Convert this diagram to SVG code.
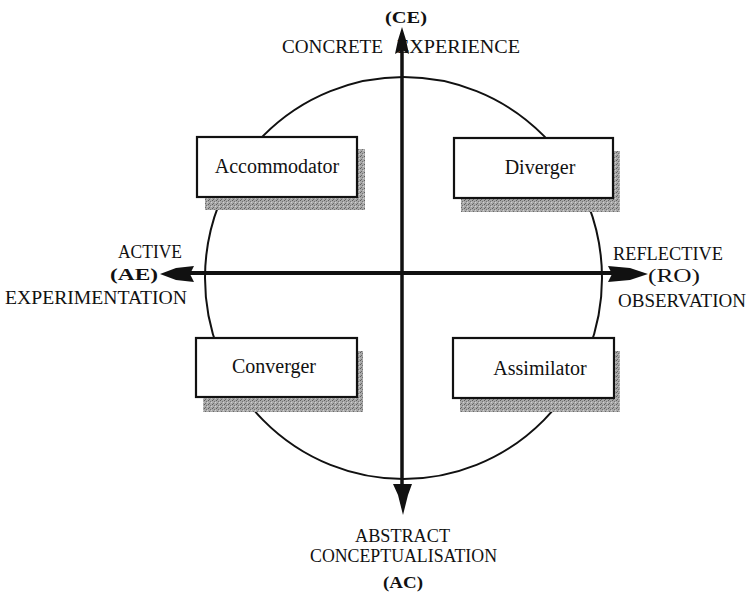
<svg xmlns="http://www.w3.org/2000/svg" width="748" height="592" viewBox="0 0 748 592">
  <defs>
    <!-- stippled grey used for the drop shadows -->
    <pattern id="stipple" width="4" height="4" patternUnits="userSpaceOnUse">
      <rect width="4" height="4" fill="#a8a8a8"/>
      <rect x="0" y="0" width="1" height="1" fill="#5e5e5e"/>
      <rect x="2" y="1" width="1" height="1" fill="#747474"/>
      <rect x="1" y="3" width="1" height="1" fill="#6a6a6a"/>
      <rect x="3" y="2" width="1" height="1" fill="#d0d0d0"/>
    </pattern>
    <style>
      .box { fill: #ffffff; stroke: #111111; stroke-width: 2.2; }
      .shadow { fill: url(#stipple); }
      .lbl { font-family: "Liberation Serif", "Times New Roman", serif; font-size: 20px; fill: #111111; text-anchor: middle; }
      .ax { font-family: "Liberation Serif", "Times New Roman", serif; font-size: 18px; fill: #111111; }
      .code { font-family: "Liberation Serif", "Times New Roman", serif; font-size: 17px; font-weight: bold; fill: #111111; }
      .axis { stroke: #111111; fill: none; }
      .head { fill: #111111; stroke: none; }
    </style>
  </defs>

  <rect width="748" height="592" fill="#ffffff"/>

  <!-- learning cycle -->
  <ellipse cx="403.5" cy="278" rx="198.5" ry="201" fill="none" stroke="#111111" stroke-width="2"/>

  <!-- style quadrants -->
  <g id="accommodator">
    <rect class="shadow" x="205" y="149" width="160" height="61"/>
    <rect class="box" x="197" y="137" width="160" height="60"/>
    <text class="lbl" x="277" y="173">Accommodator</text>
  </g>
  <g id="diverger">
    <rect class="shadow" x="461" y="151" width="159" height="61"/>
    <rect class="box" x="454" y="138" width="159" height="60"/>
    <text class="lbl" x="540" y="174">Diverger</text>
  </g>
  <g id="converger">
    <rect class="shadow" x="203" y="351" width="160" height="61"/>
    <rect class="box" x="196" y="338" width="161" height="59"/>
    <text class="lbl" x="274" y="373">Converger</text>
  </g>
  <g id="assimilator">
    <rect class="shadow" x="460" y="351" width="160" height="61"/>
    <rect class="box" x="453" y="338" width="161" height="60"/>
    <text class="lbl" x="540" y="375">Assimilator</text>
  </g>

  <!-- axis labels -->
  <g id="ce">
    <text class="code" x="385" y="23" textLength="42" lengthAdjust="spacingAndGlyphs">(CE)</text>
    <text class="ax" x="282" y="53" textLength="101" lengthAdjust="spacingAndGlyphs">CONCRETE</text>
    <text class="ax" x="397" y="53" textLength="123" lengthAdjust="spacingAndGlyphs">EXPERIENCE</text>
  </g>
  <g id="ae">
    <text class="ax" x="118" y="258" textLength="64" lengthAdjust="spacingAndGlyphs">ACTIVE</text>
    <text class="code" x="110" y="280" textLength="48" lengthAdjust="spacingAndGlyphs">(AE)</text>
    <text class="ax" x="5" y="304" textLength="182" lengthAdjust="spacingAndGlyphs">EXPERIMENTATION</text>
  </g>
  <g id="ro">
    <text class="ax" x="613" y="260" textLength="110" lengthAdjust="spacingAndGlyphs">REFLECTIVE</text>
    <text class="ax" x="648" y="282" textLength="52" lengthAdjust="spacingAndGlyphs">(RO)</text>
    <text class="ax" x="618" y="307" textLength="128" lengthAdjust="spacingAndGlyphs">OBSERVATION</text>
  </g>
  <g id="ac">
    <text class="ax" x="355" y="542" textLength="95" lengthAdjust="spacingAndGlyphs">ABSTRACT</text>
    <text class="ax" x="310" y="562" textLength="187" lengthAdjust="spacingAndGlyphs">CONCEPTUALISATION</text>
    <text class="code" x="383" y="588" textLength="40" lengthAdjust="spacingAndGlyphs">(AC)</text>
  </g>

  <!-- axes with arrowheads -->
  <g id="connectors">
    <line class="axis" x1="402" y1="45" x2="402" y2="490" stroke-width="3.5"/>
    <line class="axis" x1="188" y1="273" x2="612" y2="273" stroke-width="4"/>
    <polygon class="head" points="402,27 398,40 395,54 402,50 409,54 406,40"/>
    <polygon class="head" points="393,484 412,484 408,495 403,515 398,495"/>
    <polygon class="head" points="160,274 176,268 194,266 190,274 194,282 176,280"/>
    <polygon class="head" points="648,274 630,268 608,266 612,274 608,282 630,280"/>
  </g>
</svg>
